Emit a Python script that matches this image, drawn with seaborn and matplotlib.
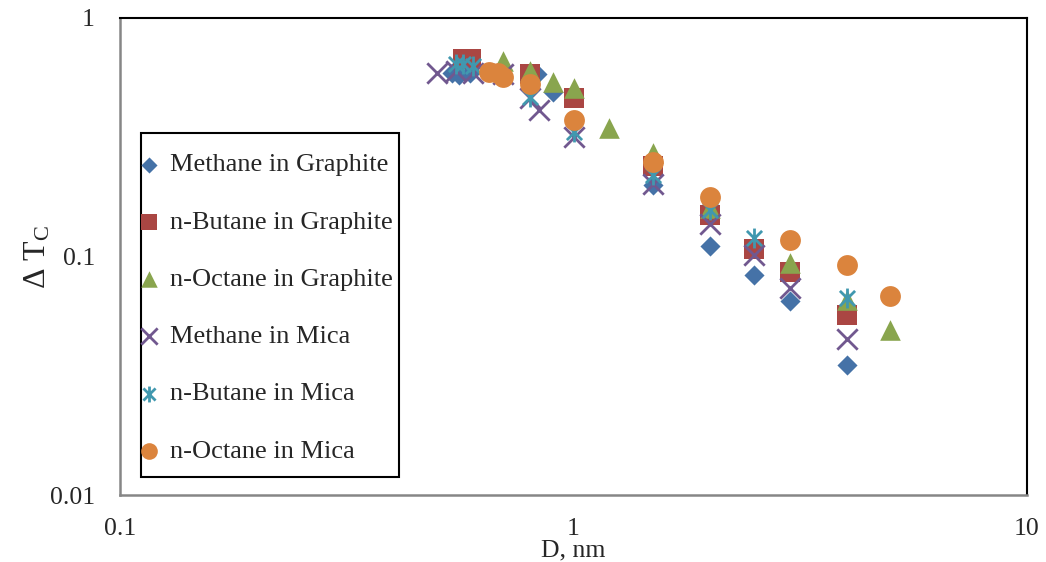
import numpy as np
import pandas as pd
import matplotlib
matplotlib.use("Agg")
import matplotlib.pyplot as plt
import seaborn as sns
from matplotlib.path import Path
from matplotlib.patches import Rectangle
from matplotlib.ticker import FixedLocator, FixedFormatter, NullFormatter, LogLocator

# ---------------- data ----------------
series_names = ["Methane in Graphite", "n-Butane in Graphite", "n-Octane in Graphite",
                "Methane in Mica", "n-Butane in Mica", "n-Octane in Mica"]

methane_graphite_D = [0.54, 0.56, 0.59, 0.83, 0.9, 1.5, 2.0, 2.5, 3.0, 4.0]
methane_graphite_T = [0.59, 0.575, 0.59, 0.585, 0.49, 0.2, 0.111, 0.084, 0.065, 0.035]

butane_graphite_D = [0.57, 0.595, 0.8, 1.0, 1.5, 2.0, 2.5, 3.0, 4.0]
butane_graphite_T = [0.67, 0.67, 0.58, 0.46, 0.24, 0.149, 0.108, 0.086, 0.057]

octane_graphite_D = [0.7, 0.8, 0.9, 1.0, 1.2, 1.5, 2.0, 3.0, 4.0, 5.0]
octane_graphite_T = [0.66, 0.6, 0.54, 0.507, 0.347, 0.272, 0.159, 0.094, 0.066, 0.049]

methane_mica_D = [0.5, 0.55, 0.6, 0.7, 0.8, 0.84, 1.0, 1.5, 2.0, 2.5, 3.0, 4.0]
methane_mica_T = [0.59, 0.6, 0.59, 0.58, 0.46, 0.41, 0.318, 0.202, 0.137, 0.101, 0.074, 0.045]

butane_mica_D = [0.55, 0.57, 0.6, 0.8, 1.0, 1.5, 2.0, 2.5, 4.0]
butane_mica_T = [0.64, 0.64, 0.63, 0.467, 0.333, 0.219, 0.156, 0.12, 0.067]

octane_mica_D = [0.65, 0.68, 0.7, 0.8, 1.0, 1.5, 2.0, 3.0, 4.0, 5.0]
octane_mica_T = [0.595, 0.586, 0.567, 0.531, 0.375, 0.249, 0.178, 0.117, 0.092, 0.068]

x_ticks = [0.1, 1, 10]
x_tick_labels = ["0.1", "1", "10"]
y_ticks = [0.01, 0.1, 1]
y_tick_labels = ["0.01", "0.1", "1"]

# ---------------- style ----------------
sns.set_style("white")
plt.rcParams["font.family"] = ["Liberation Serif", "DejaVu Serif"]
plt.rcParams["mathtext.fontset"] = "custom"
plt.rcParams["mathtext.rm"] = "Liberation Serif"
plt.rcParams["mathtext.it"] = "Liberation Serif:italic"

colors = ["#4572A7", "#AA4643", "#89A54E", "#71588F", "#4198AF", "#DB843D"]

asterisk = Path(
    [(-0.42, -0.42), (0.42, 0.42), (-0.42, 0.42), (0.42, -0.42), (0, -0.55), (0, 0.55)],
    [Path.MOVETO, Path.LINETO, Path.MOVETO, Path.LINETO, Path.MOVETO, Path.LINETO],
)

styles = [
    dict(marker="D", s=105, linewidth=0),
    dict(marker="s", s=200, linewidth=0),
    dict(marker="^", s=220, linewidth=0),
    dict(marker="x", s=215, linewidth=2.0),
    dict(marker=asterisk, s=205, linewidth=2.0),
    dict(marker="o", s=225, linewidth=0),
]

data = [
    (methane_graphite_D, methane_graphite_T),
    (butane_graphite_D, butane_graphite_T),
    (octane_graphite_D, octane_graphite_T),
    (methane_mica_D, methane_mica_T),
    (butane_mica_D, butane_mica_T),
    (octane_mica_D, octane_mica_T),
]

W, H = 1046, 562
AX_L, AX_R, AX_T, AX_B = 120, 1027, 18, 495
fig = plt.figure(figsize=(W / 100, H / 100), dpi=100)
ax = fig.add_axes([AX_L / W, 1 - AX_B / H, (AX_R - AX_L) / W, (AX_B - AX_T) / H])


def ax_x(px):
    return (px - AX_L) / (AX_R - AX_L)


def ax_y(py):
    return (AX_B - py) / (AX_B - AX_T)


for i, (name, (d, t)) in enumerate(zip(series_names, data)):
    df = pd.DataFrame({"D": d, "T": t})
    st = styles[i]
    sns.scatterplot(data=df, x="D", y="T", ax=ax, marker=st["marker"], s=st["s"],
                    color=colors[i], edgecolor=colors[i], linewidth=st["linewidth"],
                    label=name, zorder=3 + i)

ax.set_xscale("log")
ax.set_yscale("log")
ax.set_xlim(0.1, 10)
ax.set_ylim(0.01, 1)

ax.xaxis.set_major_locator(FixedLocator(x_ticks))
ax.xaxis.set_major_formatter(FixedFormatter(x_tick_labels))
ax.yaxis.set_major_locator(FixedLocator(y_ticks))
ax.yaxis.set_major_formatter(FixedFormatter(y_tick_labels))
ax.xaxis.set_minor_locator(LogLocator(base=10, subs=np.arange(2, 10)))
ax.yaxis.set_minor_locator(LogLocator(base=10, subs=np.arange(2, 10)))
ax.xaxis.set_minor_formatter(NullFormatter())
ax.yaxis.set_minor_formatter(NullFormatter())

gray = "#868686"
ax.tick_params(axis="both", which="major", direction="in", length=6, width=1.2,
               color=gray, labelsize=18.5)
ax.tick_params(axis="both", which="minor", direction="in", length=4, width=1.2, color=gray)
ax.tick_params(axis="y", which="major", pad=18)
ax.tick_params(axis="x", which="major", pad=16.5)

for side in ["left", "bottom"]:
    ax.spines[side].set_color(gray)
    ax.spines[side].set_linewidth(1.8)
for side in ["top", "right"]:
    ax.spines[side].set_color("black")
    ax.spines[side].set_linewidth(1.5)
    ax.spines[side].set_visible(True)

ax.set_xlabel("D, nm", fontsize=18.5, labelpad=0)
ax.set_ylabel("Δ T$_{\\mathrm{C}}$", fontsize=23, labelpad=-2)

# legend box drawn as its own frame, entries placed inside it
box = Rectangle((ax_x(141), ax_y(477)), ax_x(399) - ax_x(141), ax_y(133) - ax_y(477),
                transform=ax.transAxes, facecolor="white", edgecolor="black",
                linewidth=1.5, zorder=20)
ax.add_patch(box)

leg = ax.legend(loc="upper left", bbox_to_anchor=(ax_x(142), ax_y(153)), fontsize=19,
                frameon=False, borderaxespad=0, borderpad=0, labelspacing=1.28,
                handlelength=0.55, handletextpad=0.5, markerscale=0.8)
leg.set_zorder(21)

fig.savefig("out.png", dpi=100)
